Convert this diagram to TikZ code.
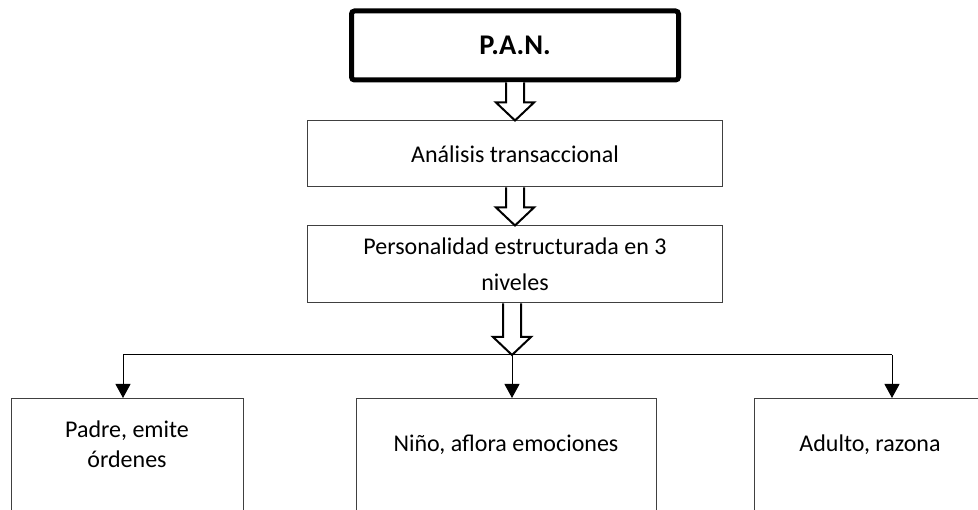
\documentclass[tikz,border=0pt]{standalone}
\usepackage{fontspec}
\setmainfont{Carlito}
\usepackage{tikz}
\usetikzlibrary{positioning, calc, arrows.meta}

\newcommand{\fatarrow}[2]{\draw[fat] ($(#1)+(-9,0)$) -- ($(#2)+(-9,18)$) -- ($(#2)+(-19,18)$) -- (#2) -- ($(#2)+(19,18)$) -- ($(#2)+(9,18)$) -- ($(#1)+(9,0)$);}

\tikzset{
  box/.style={draw=black!75, line width=1pt, minimum width=415pt, inner sep=0pt, font=\fontsize{24}{36}\selectfont},
  topbox/.style={draw, line width=5pt, rounded corners=3pt, minimum width=327pt, minimum height=69pt, font=\fontsize{28.5}{32}\selectfont\bfseries},
  leaf/.style={draw=black!75, line width=1pt, anchor=north, minimum height=150pt},
  txt/.style={align=center, font=\fontsize{24}{30}\selectfont},
  fat/.style={line width=2pt, fill=white, line join=miter},
}

\begin{document}
\begin{tikzpicture}[x=1pt, y=1pt, node distance=38pt, >={Triangle[width=15pt,length=14pt]}, line width=1pt]
\useasboundingbox (0,0) rectangle (978,-510);
\clip (0,0) rectangle (978,-510);
\node[topbox] (pan) at (515,-45.5) {P.A.N.};
\node[box, minimum height=66pt] (at) [below=of pan] {Análisis transaccional};
\node[box, minimum height=77pt, align=center] (pers) [below=of at] {Personalidad estructurada en 3\\niveles};
\node[leaf, minimum width=232pt] (padre) at (127,-398) {};
\node[leaf, minimum width=300pt] (nino) at (506,-398) {};
\node[leaf, minimum width=232pt] (adulto) at (870,-398) {};
\node[txt, anchor=base] (padret) at (127,-468) {Padre, emite\\órdenes};
\node[txt, anchor=base] (ninot) at (506,-452) {Niño, aflora emociones};
\node[txt, anchor=base] (adultot) at (870,-452) {Adulto, razona};
\coordinate (b1) at (123,-355);
\coordinate (b2) at (512,-355);
\coordinate (b3) at (892,-355);
\fatarrow{pan.south}{at.north}
\fatarrow{at.south}{pers.north}
\fatarrow{b2 |- pers.south}{b2}
\draw (b1) -- (b3);
\draw[->] (b1) -- (b1 |- padre.north);
\draw[->] (b2) -- (b2 |- nino.north);
\draw[->] (b3) -- (b3 |- adulto.north);
\end{tikzpicture}
\end{document}
